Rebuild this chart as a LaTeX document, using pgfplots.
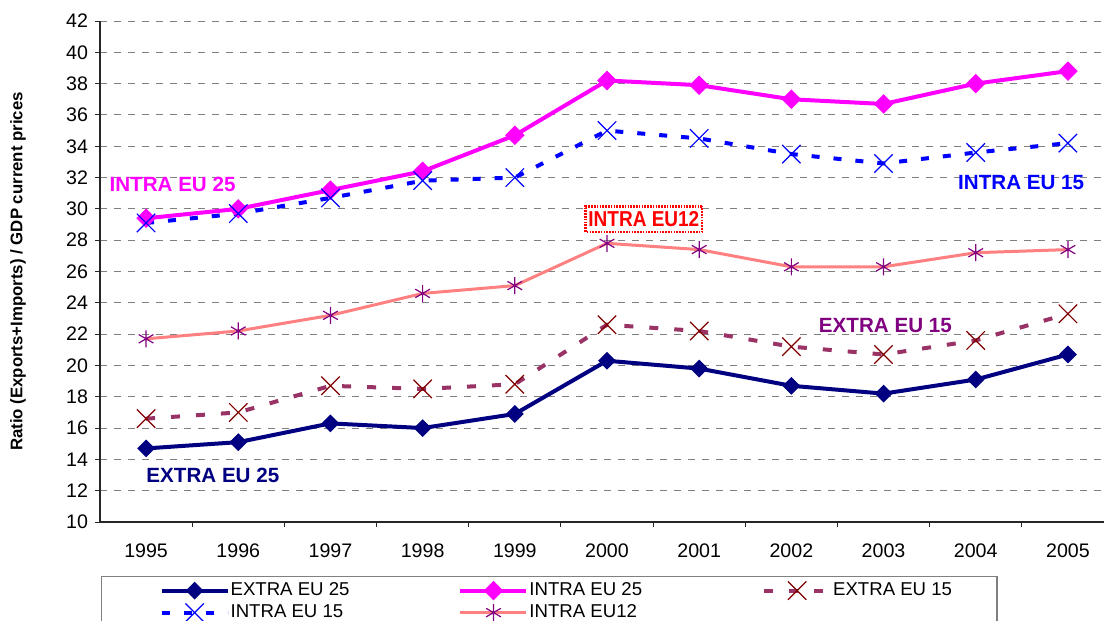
\documentclass[border=0pt]{standalone}
\usepackage{pgfplots}
\pgfplotsset{compat=1.18}
\usepackage{fontspec}
\setmainfont{Liberation Sans}

\definecolor{navyc}{HTML}{000080}
\definecolor{magc}{HTML}{FF00FF}
\definecolor{plumc}{HTML}{993366}
\definecolor{darkredc}{HTML}{800000}
\definecolor{bluec}{HTML}{0000FF}
\definecolor{salmonc}{HTML}{FF8080}
\definecolor{purplec}{HTML}{800080}

\begin{document}
\begin{tikzpicture}
\path[use as bounding box] (0,0) rectangle (552pt,-310.5pt);
\clip (0,0) rectangle (552pt,-310.5pt);
\begin{axis}[
    at={(50pt,-261pt)}, anchor=south west,
    scale only axis, width=507pt, height=250.5pt,
    xmin=-0.5, xmax=10.5, ymin=10, ymax=42,
    ytick={10,12,...,42},
    xtick={0,...,10},
    xticklabels={1995,1996,1997,1998,1999,2000,2001,2002,2003,2004,2005},
    minor xtick={0.5,1.5,...,9.5},
    major x tick style={draw=none},
    axis x line*=bottom, axis y line*=left,
    axis line style={draw=black!85, line width=0.6pt},
    tick align=outside, major tick length=2.5pt, minor tick length=2.5pt,
    tick style={draw=black!85, line width=0.5pt},
    ymajorgrids,
    major grid style={draw=gray, dash pattern=on 3.5pt off 3.5pt, line width=0.5pt},
    tick label style={font=\fontsize{9.8}{11}\selectfont},
    /pgf/number format/assume math mode=true,
    xticklabel style={anchor=center, yshift=-12pt},
    ylabel={Ratio (Exports+Imports) / GDP current prices},
    ylabel style={font=\bfseries\fontsize{8.4}{10}\selectfont, at={(axis description cs:-0.0809,0.5)}, anchor=center},
    legend columns=3,
    legend cell align=left,
    legend image code/.code={\path (-7pt,0pt); \draw[mark repeat=2,mark phase=2] plot coordinates {(0pt,0pt) (16.5pt,0pt) (33pt,0pt)};},
    legend style={at={(axis description cs:0.001,-0.1078)}, anchor=north west,
        draw=gray, line width=0.6pt, font=\fontsize{9.3}{10}\selectfont,
        inner xsep=22pt, inner ysep=2pt,
        nodes={inner xsep=0.5pt, inner ysep=1pt},
        /tikz/every odd column/.append style={column sep=0pt},
        /tikz/column 2/.append style={column sep=47pt},
        /tikz/column 4/.append style={column sep=52.5pt},
        /tikz/row sep=1pt},
]
\addplot[navyc, line width=2pt, mark=square*, mark size=2.9pt, mark options={rotate=45, solid, line width=0.5pt}]
coordinates {(0,14.7) (1,15.1) (2,16.3) (3,16.0) (4,16.9) (5,20.3) (6,19.8) (7,18.7) (8,18.2) (9,19.1) (10,20.7)};
\addlegendentry{EXTRA EU 25}
\addplot[magc, line width=2pt, mark=square*, mark size=3.2pt, mark options={rotate=45, solid, line width=0.5pt}]
coordinates {(0,29.4) (1,30.0) (2,31.2) (3,32.4) (4,34.7) (5,38.2) (6,37.9) (7,37.0) (8,36.7) (9,38.0) (10,38.8)};
\addlegendentry{INTRA EU 25}
\addplot[plumc, line width=2pt, dash pattern=on 4.5pt off 8pt, mark=x, mark size=6.5pt, mark options={darkredc, solid, line width=0.6pt}]
coordinates {(0,16.6) (1,17.0) (2,18.7) (3,18.5) (4,18.8) (5,22.6) (6,22.2) (7,21.2) (8,20.7) (9,21.6) (10,23.3)};
\addlegendentry{EXTRA EU 15}
\addplot[bluec, line width=2pt, dash pattern=on 4pt off 7pt, mark=x, mark size=6.5pt, mark options={bluec, solid, line width=0.6pt}]
coordinates {(0,29.1) (1,29.7) (2,30.7) (3,31.8) (4,32.0) (5,35.0) (6,34.5) (7,33.5) (8,32.9) (9,33.6) (10,34.2)};
\addlegendentry{INTRA EU 15}
\addplot[salmonc, line width=1.5pt, mark=asterisk, mark size=4.25pt, mark options={purplec, solid, line width=0.6pt}]
coordinates {(0,21.7) (1,22.2) (2,23.2) (3,24.6) (4,25.1) (5,27.8) (6,27.4) (7,26.3) (8,26.3) (9,27.2) (10,27.4)};
\addlegendentry{INTRA EU12}

\node[magc, font=\bfseries\fontsize{10.3}{12}\selectfont, anchor=west, inner sep=0pt] at (axis cs:-0.40,31.55) {INTRA EU 25};
\node[bluec, font=\bfseries\fontsize{10.3}{12}\selectfont, anchor=east, inner sep=0pt] at (axis cs:10.18,31.69) {INTRA EU 15};
\node[purplec, font=\bfseries\fontsize{10.3}{12}\selectfont, anchor=center, inner sep=0pt] at (axis cs:8.02,22.58) {EXTRA EU 15};
\node[navyc, font=\bfseries\fontsize{10.3}{12}\selectfont, anchor=west, inner sep=0pt] at (axis cs:0,12.96) {EXTRA EU 25};
\node[red, font=\bfseries\fontsize{10.8}{12}\selectfont, fill=white, draw=red, line width=1.4pt,
      dash pattern=on 0.8pt off 0.6pt, inner xsep=1.5pt, inner ysep=2.6pt, xscale=0.88] at (axis cs:5.40,29.35) {INTRA EU12};
\end{axis}
\end{tikzpicture}
\end{document}
